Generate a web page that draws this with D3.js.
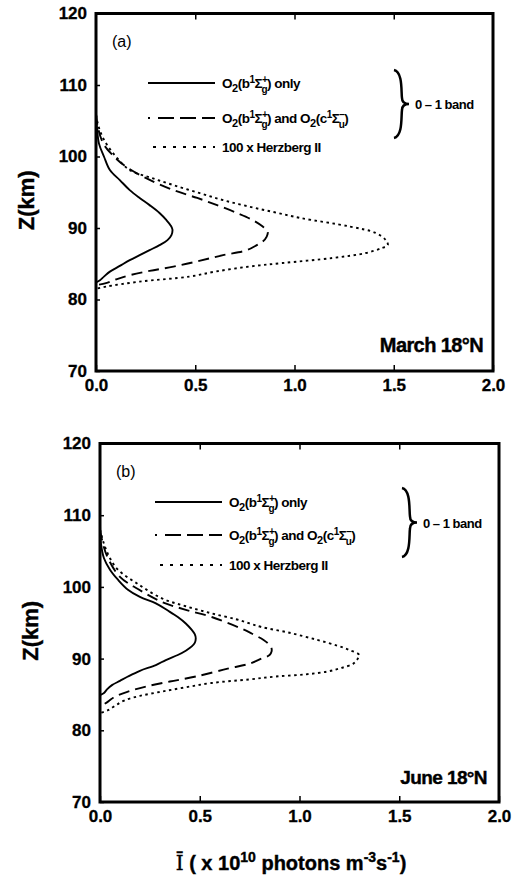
<!DOCTYPE html>
<html>
<head>
<meta charset="utf-8">
<script src="https://cdn.jsdelivr.net/npm/d3@7"></script>
<style>
  body { margin: 0; background: #fff; }
  svg { font-family: "Liberation Sans", Arial, sans-serif; }
  .tick text { font-weight: bold; font-size: 17px; stroke: #000; stroke-width: 0.3; }
</style>
</head>
<body>
<svg width="513" height="878"></svg>
<script>
// altitude (km) and intensity (x 1e10 photons m^-3 s^-1)
const zA_solid = [106, 104, 101.8, 100, 98.1, 96.7, 95.3, 94.2, 93.2, 92.1, 91.1, 90.4, 89.8, 89, 88.3, 87.6, 86.9, 86.2, 85.5, 84.7, 83.9, 83.2, 82.7, 82.4];
const iA_solid = [0, 0.005, 0.015, 0.04, 0.07, 0.12, 0.17, 0.22, 0.27, 0.32, 0.355, 0.375, 0.385, 0.38, 0.36, 0.32, 0.27, 0.22, 0.17, 0.12, 0.07, 0.04, 0.02, 0];
const zA_dash = [106, 104, 101.8, 100.3, 98.8, 97, 95.3, 94.2, 93.2, 92.1, 91.1, 90.2, 89.5, 88.8, 88.1, 87.6, 86.9, 86.2, 85.4, 84.6, 84, 83.4, 82.8, 82.3, 82];
const iA_dash = [0, 0.01, 0.037, 0.08, 0.14, 0.25, 0.39, 0.51, 0.61, 0.71, 0.79, 0.84, 0.865, 0.86, 0.84, 0.81, 0.76, 0.64, 0.52, 0.39, 0.27, 0.17, 0.1, 0.05, 0];
const zA_dot = [105.8, 104, 102.1, 100, 98.1, 97, 96, 94.9, 93.9, 93, 92.2, 91.4, 90.2, 89.3, 88.3, 87.6, 87.2, 86.5, 85.8, 85.1, 84.6, 83.9, 83.2, 82.5, 81.8, 81.5];
const iA_dot = [0, 0.015, 0.045, 0.1, 0.17, 0.28, 0.39, 0.52, 0.64, 0.77, 0.9, 1.03, 1.28, 1.41, 1.46, 1.47, 1.44, 1.36, 1.19, 0.94, 0.77, 0.6, 0.47, 0.22, 0.05, 0];

const zB_solid = [108.9, 106, 104, 102.4, 101, 99.6, 98.6, 97.7, 96.7, 95.8, 94.9, 94, 93.4, 92.8, 92.2, 91.7, 91.1, 90.5, 89.8, 89.1, 88.3, 87.5, 86.9, 86.3, 85.7, 85.2, 84.9];
const iB_solid = [0, 0.005, 0.02, 0.05, 0.09, 0.14, 0.2, 0.28, 0.34, 0.39, 0.43, 0.46, 0.475, 0.48, 0.475, 0.46, 0.43, 0.39, 0.33, 0.28, 0.2, 0.14, 0.1, 0.06, 0.035, 0.02, 0];
const zB_dash = [108, 106, 104, 101.4, 99.7, 97.9, 96.8, 95.8, 94.3, 93.5, 92.6, 91.9, 91.4, 91, 90.5, 90, 89.3, 88.6, 87.5, 86.8, 86.1, 85.4, 84.7, 84, 83.3];
const iB_dash = [0, 0.015, 0.04, 0.10, 0.19, 0.31, 0.43, 0.56, 0.7, 0.76, 0.82, 0.85, 0.86, 0.86, 0.85, 0.81, 0.75, 0.64, 0.48, 0.35, 0.23, 0.14, 0.075, 0.04, 0];
const zB_dot = [108, 106, 104, 102.4, 100.4, 98.4, 97.3, 96.3, 95.5, 94.9, 94.4, 93.6, 92.6, 91.8, 91.2, 90.5, 89.9, 89.3, 88.7, 88.2, 87.8, 87.5, 87.1, 86.6, 86, 85.4, 84.8, 84.2, 83.5, 82.8, 82.4];
const iB_dot = [0, 0.02, 0.05, 0.09, 0.19, 0.31, 0.43, 0.56, 0.68, 0.75, 0.81, 0.95, 1.09, 1.19, 1.25, 1.30, 1.29, 1.27, 1.21, 1.14, 1.03, 0.88, 0.75, 0.56, 0.43, 0.31, 0.2, 0.125, 0.08, 0.04, 0];

const xTicks = [0, 0.5, 1.0, 1.5, 2.0];
const zTicks = [70, 80, 90, 100, 110, 120];
const legendLabels = ["only", "and", "100 x Herzberg II"];

const svg = d3.select("svg");

const panels = [
  { left: 96, right: 493, top: 13.5, bottom: 371, tag: "(a)", place: "March 18\u00B0N", placeSize: 20, placeRight: 483, placeY: 352,
    legY: [83, 118, 147], legX: 148, braceX: 394, braceY: [70, 138],
    series: [[zA_solid, iA_solid], [zA_dash, iA_dash], [zA_dot, iA_dot]] },
  { left: 100, right: 499, top: 443.5, bottom: 802, tag: "(b)", place: "June 18\u00B0N", placeSize: 19, placeRight: 487, placeY: 784,
    legY: [502, 535, 565], legX: 155, braceX: 402, braceY: [488, 557],
    series: [[zB_solid, iB_solid], [zB_dash, iB_dash], [zB_dot, iB_dot]] }
];

const dashes = [null, "11,6", "2.5,3.5"];

panels.forEach(p => {
  const x = d3.scaleLinear().domain([0, 2]).range([p.left, p.right]);
  const y = d3.scaleLinear().domain([70, 120]).range([p.bottom, p.top]);
  const g = svg.append("g");

  // curves
  const line = d3.line().x(d => x(d[1])).y(d => y(d[0])).curve(d3.curveCatmullRom.alpha(0.5));
  p.series.forEach((s, k) => {
    const pts = s[0].map((z, i) => [z, s[1][i]]);
    g.append("path").datum(pts)
      .attr("d", line)
      .attr("fill", "none")
      .attr("stroke", "#000")
      .attr("stroke-width", 1.9)
      .attr("stroke-dasharray", dashes[k]);
  });

  // axes
  g.append("g").attr("transform", `translate(0,${p.bottom})`)
    .call(d3.axisBottom(x).tickValues(xTicks).tickFormat(d3.format(".1f")).tickSize(-6).tickPadding(8))
    .call(a => a.select(".domain").remove());
  g.append("g").attr("transform", `translate(0,${p.top})`)
    .call(d3.axisTop(x).tickValues(xTicks.slice(1, 4)).tickSize(-6).tickFormat(""))
    .call(a => a.select(".domain").remove());
  g.append("g").attr("transform", `translate(${p.left},0)`)
    .call(d3.axisLeft(y).tickValues(zTicks).tickSize(-4).tickPadding(9))
    .call(a => a.select(".domain").remove());
  g.selectAll(".tick line").attr("stroke-width", 1.5);
  g.selectAll(".tick text").attr("fill", "#000");

  g.append("rect")
    .attr("x", p.left).attr("y", p.top)
    .attr("width", p.right - p.left).attr("height", p.bottom - p.top)
    .attr("fill", "none").attr("stroke", "#000").attr("stroke-width", 3);

  // panel tag and place
  g.append("text").attr("x", p.left + 16).attr("y", p.top + 33)
    .attr("font-size", 16).text(p.tag);
  g.append("text").attr("x", p.placeRight).attr("y", p.placeY)
    .attr("text-anchor", "end").attr("font-weight", "bold")
    .attr("stroke", "#000").attr("stroke-width", 0.4)
    .attr("font-size", p.placeSize).attr("letter-spacing", -0.6).text(p.place);

  // Z(km) label
  g.append("text")
    .attr("transform", `translate(${p.left - 62},${(p.top + p.bottom) / 2 + 8}) rotate(-90)`)
    .attr("text-anchor", "middle").attr("font-weight", "bold").attr("font-size", 22)
    .attr("stroke", "#000").attr("stroke-width", 0.4)
    .text("Z(km)");

  // legend
  p.legY.forEach((ly, k) => {
    g.append("line")
      .attr("x1", k === 2 ? p.legX + 5 : p.legX).attr("x2", p.legX + 67)
      .attr("y1", ly).attr("y2", ly)
      .attr("stroke", "#000").attr("stroke-width", 1.8)
      .attr("stroke-dasharray", k === 1 ? "2,8,16,6,16,6,16" : (k === 2 ? "3,7" : null));
    const t = g.append("text").attr("x", p.legX + 74).attr("y", ly + 5)
      .attr("font-size", 13.5).attr("font-weight", "bold").attr("letter-spacing", -0.5);
    if (k === 2) { t.text(legendLabels[2]); return; }
    const sigma = (term, sub, sup) => {
      t.append("tspan").text("O");
      t.append("tspan").attr("dy", 4).attr("font-size", 11).text("2");
      t.append("tspan").attr("dy", -4).text(`(${term}`);
      t.append("tspan").attr("dy", -5).attr("font-size", 10).text("1");
      t.append("tspan").attr("dy", 5).text("\u03A3");
      t.append("tspan").attr("dy", -5).attr("font-size", 10).text(sup);
      t.append("tspan").attr("dx", -6).attr("dy", 10).attr("font-size", 10).text(sub);
      t.append("tspan").attr("dy", -5).text(")");
    };
    sigma("b", "g", "+");
    t.append("tspan").text(" " + legendLabels[k] + (k === 1 ? " " : ""));
    if (k === 1) sigma("c", "u", "\u2212");
  });

  // brace
  const bx = p.braceX, b0 = p.braceY[0], b1 = p.braceY[1], bm = (b0 + b1) / 2;
  g.append("path")
    .attr("d", `M${bx},${b0} C${bx + 9},${b0 + 2} ${bx + 7},${bm - 12} ${bx + 8},${bm - 6}
                C${bx + 8},${bm - 2} ${bx + 11},${bm} ${bx + 15},${bm}
                C${bx + 11},${bm} ${bx + 8},${bm + 2} ${bx + 8},${bm + 6}
                C${bx + 7},${bm + 12} ${bx + 9},${b1 - 2} ${bx},${b1}`)
    .attr("fill", "none").attr("stroke", "#000").attr("stroke-width", 2.5);
  g.append("text").attr("x", bx + 21).attr("y", bm + 5)
    .attr("font-size", 13).attr("font-weight", "bold").attr("letter-spacing", -0.5)
    .text("0 \u2013 1 band");
});

// x axis title
const xt = svg.append("text").attr("x", 291).attr("y", 870)
  .attr("text-anchor", "middle").attr("font-weight", "bold").attr("font-size", 20)
  .attr("stroke", "#000").attr("stroke-width", 0.4);
xt.append("tspan").attr("font-family", "DejaVu Serif").attr("font-weight", "normal").text("\u012A");
xt.append("tspan").text(" ( x 10");
xt.append("tspan").attr("dy", -8).attr("font-size", 14).text("10");
xt.append("tspan").attr("dy", 8).text(" photons m");
xt.append("tspan").attr("dy", -8).attr("font-size", 14).text("-3");
xt.append("tspan").attr("dy", 8).text("s");
xt.append("tspan").attr("dy", -8).attr("font-size", 14).text("-1");
xt.append("tspan").attr("dy", 8).text(")");
</script>
</body>
</html>
